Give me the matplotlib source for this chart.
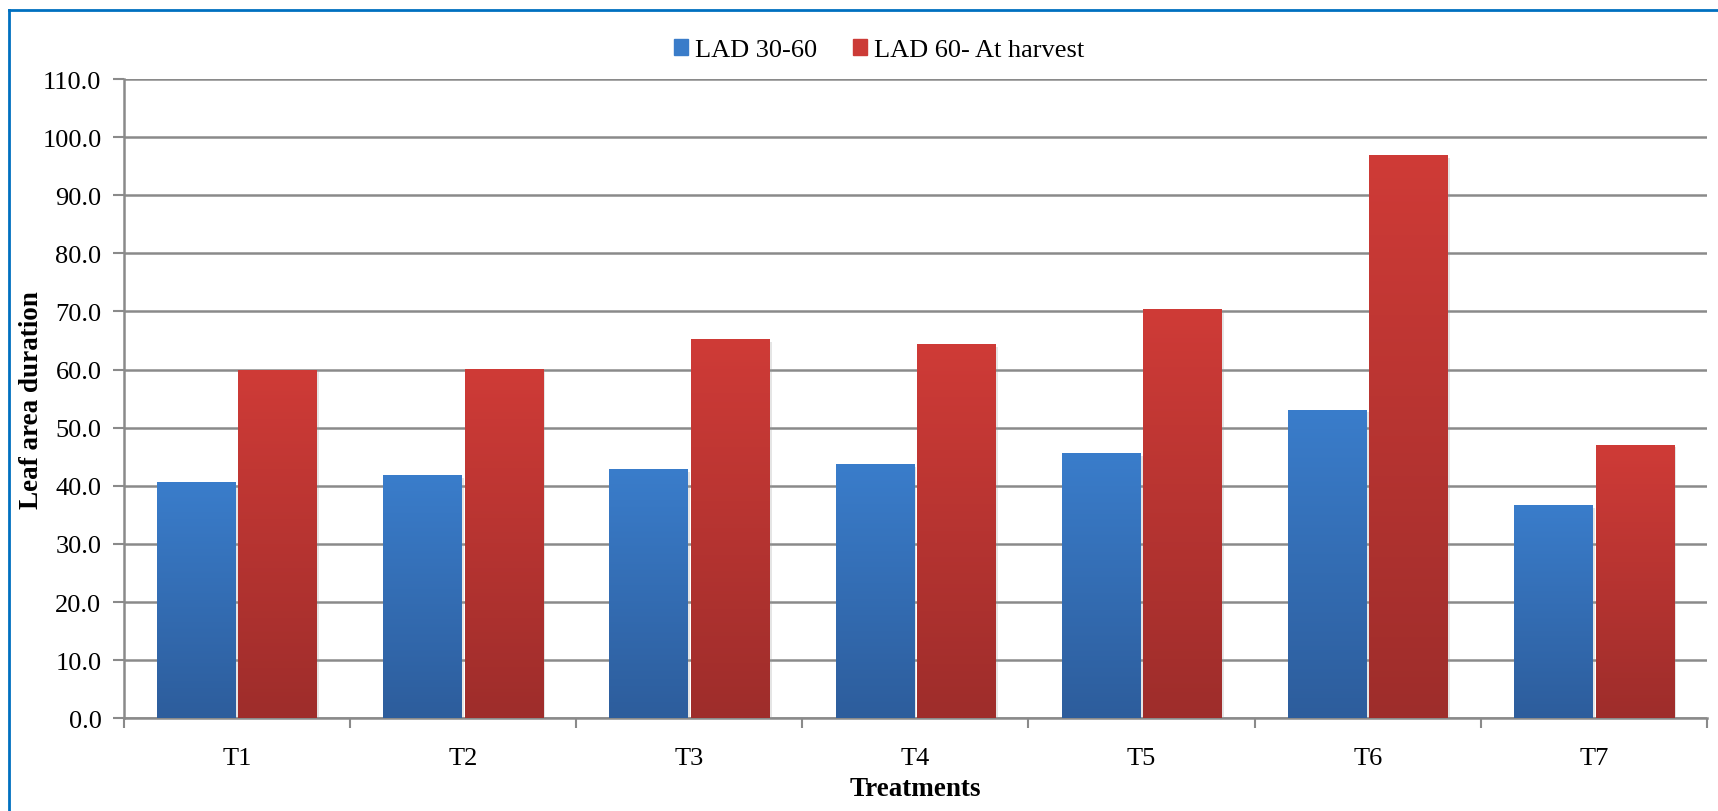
import numpy as np
import matplotlib.pyplot as plt
import matplotlib.patheffects as pe
from matplotlib.colors import LinearSegmentedColormap
from matplotlib.lines import Line2D

plt.rcParams["font.family"] = ["Liberation Serif", "DejaVu Serif"]

treatments = ["T1", "T2", "T3", "T4", "T5", "T6", "T7"]
lad_30_60 = [40.6, 41.8, 42.9, 43.7, 45.6, 53.1, 36.7]
lad_60_harvest = [60.0, 60.1, 65.3, 64.4, 70.4, 96.9, 47.1]
series_names = ["LAD 30-60", "LAD 60- At harvest"]

W, H = 1718, 812
fig = plt.figure(figsize=(W / 100, H / 100), dpi=100)
ax = fig.add_axes([123.7 / W, 1 - 719.3 / H, (1707 - 123.7) / W, (719.3 - 80) / H])

x = np.arange(len(treatments))
width = 0.345
offset = 0.18

blue_cmap = LinearSegmentedColormap.from_list("b", ["#2D5D9C", "#3A7DCB"])
red_cmap = LinearSegmentedColormap.from_list("r", ["#9E2D2B", "#CF3B37"])
grad = np.linspace(0, 1, 256).reshape(-1, 1)

shadow = [pe.SimplePatchShadow(offset=(2, -2), shadow_rgbFace="#999999", alpha=0.25), pe.Normal()]

bars_b = ax.bar(x - offset, lad_30_60, width, color="#3A7CC9", zorder=3, label=series_names[0])
bars_r = ax.bar(x + offset, lad_60_harvest, width, color="#CC3B37", zorder=3, label=series_names[1])

for bars, cmap in [(bars_b, blue_cmap), (bars_r, red_cmap)]:
    for b in bars:
        b.set_path_effects(shadow)
        x0, y0 = b.get_x(), b.get_y()
        im = ax.imshow(grad, extent=[x0, x0 + b.get_width(), y0, y0 + b.get_height()],
                       aspect="auto", cmap=cmap, origin="lower", zorder=3.5)
        im.set_clip_path(b)

ax.set_xlim(-0.5, len(treatments) - 0.5)
ax.set_ylim(0, 110)
ax.set_yticks(np.arange(0, 111, 10))
ax.set_yticklabels([f"{v:.1f}" for v in np.arange(0, 111, 10)], fontsize=19)
ax.set_xticks(x)
ax.set_xticklabels(treatments, fontsize=19)
ax.set_xticks(np.arange(-0.5, len(treatments), 1), minor=True)

grid_col = "#8A8A8A"
ax.yaxis.grid(True, color=grid_col, linewidth=1.8, zorder=0)
ax.set_axisbelow(True)
for s in ["top", "right"]:
    ax.spines[s].set_visible(False)
for s in ["left", "bottom"]:
    ax.spines[s].set_color(grid_col)
    ax.spines[s].set_linewidth(1.8)
ax.tick_params(axis="y", length=8, width=1.5, color=grid_col, pad=8)
ax.tick_params(axis="x", which="major", length=0, pad=21)
ax.tick_params(axis="x", which="minor", length=7, width=1.5, color=grid_col)

fig.text(32 / W, 1 - 400 / H, "Leaf area duration", rotation=90, ha="center", va="center",
         fontsize=19.5, fontweight="bold")
fig.text(915 / W, 1 - 790 / H, "Treatments", ha="center", va="center",
         fontsize=19.5, fontweight="bold")

handles = [plt.Rectangle((0, 0), 1, 1, color="#3A7CC9"), plt.Rectangle((0, 0), 1, 1, color="#CC3B37")]
fig.legend(handles, series_names, loc="center", bbox_to_anchor=(879 / W, 1 - 51 / H), ncol=2,
           frameon=False, fontsize=19, handlelength=0.55, handleheight=0.55,
           handletextpad=0.25, columnspacing=1.35)

# outer chart border (top and left visible)
border = "#0070C0"
fig.add_artist(Line2D([9 / W, 9 / W], [0, 1 - 11 / H], color=border, linewidth=2))
fig.add_artist(Line2D([9 / W, 1], [1 - 11 / H, 1 - 11 / H], color=border, linewidth=2))

fig.savefig("out.png", dpi=100)
